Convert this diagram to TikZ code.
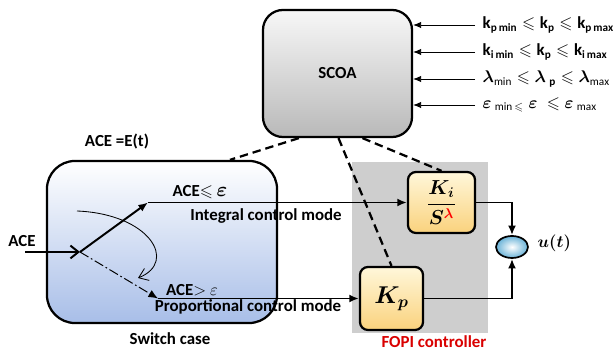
\documentclass[tikz,border=0pt]{standalone}
\usepackage{amsmath,amssymb,bm}
\usepackage{fontspec}
\setmainfont{Carlito}
\usetikzlibrary{arrows.meta,positioning,shapes.geometric,calc}
\definecolor{fopigray}{RGB}{206,206,206}
\definecolor{blockyl}{RGB}{255,247,218}
\definecolor{blockor}{RGB}{250,210,125}
\definecolor{swblue}{RGB}{168,190,232}
\definecolor{sumblue}{RGB}{105,178,215}

\begin{document}
\begin{tikzpicture}[
  x=0.025cm, y=-0.025cm,
  font=\large\bfseries,
  scoabox/.style={rectangle, draw, line width=1.6pt, rounded corners=0.5cm,
                  minimum width=3.725cm, minimum height=3.175cm,
                  top color=gray!6, bottom color=gray!55},
  swbox/.style={rectangle, draw, line width=1.6pt, rounded corners=0.7cm,
                minimum width=5.75cm, minimum height=4.05cm,
                top color=white, bottom color=swblue},
  gainbox/.style={rectangle, draw, line width=1.6pt, rounded corners=0.2cm,
                  top color=blockyl, bottom color=blockor},
  arr/.style={-{Latex[length=2.4mm,width=2mm]}, line width=1.4pt},
  inarr/.style={-{Latex[length=2mm,width=1.6mm]}, line width=0.6pt},
  dashline/.style={line width=1.6pt, dash pattern=on 6pt off 3.5pt},
  lbl/.style={inner sep=1pt}
]
  \useasboundingbox (0,0) rectangle (614,352);

  \node[fill=fopigray, minimum width=3.4cm, minimum height=4.275cm] (fopi) at (420,247.5) {};
  \node[scoabox] (scoa) at (337.5,73.5) {SCOA};
  \node[swbox] (swcase) at (162,242) {};
  \node[gainbox, minimum width=1.675cm, minimum height=1.525cm, font=\Large] (ki) at (441.5,202.5) {$\displaystyle\boldsymbol{\frac{K_i}{S^{\color{red}\lambda}}}$};
  \node[gainbox, minimum width=1.575cm, minimum height=1.575cm, font=\LARGE] (kp) at (391.5,298.5) {$\boldsymbol{K_p}$};
  \node[ellipse, draw, line width=1.2pt, minimum width=0.8cm, minimum height=0.55cm,
        inner color=white, outer color=sumblue] (sum) at (512,247) {};
  \node[lbl, anchor=west] (ut) at (536,243) {$\boldsymbol{u(t)}$};

  % bounds fed to SCOA
  \node[lbl, anchor=west] (lkp) at (481,25) {$\mathbf{k}_{\mathbf{p\,min}}\leqslant\mathbf{k_p}\leqslant\mathbf{k}_{\mathbf{p\,max}}$};
  \node[lbl, anchor=west] (lki) at (481,52) {$\mathbf{k}_{\mathbf{i\,min}}\leqslant\mathbf{k_p}\leqslant\mathbf{k}_{\mathbf{i\,max}}$};
  \node[lbl, anchor=west] (llam) at (481,79) {$\boldsymbol{\lambda}_{\mathrm{min}}\leqslant\boldsymbol{\lambda}_{\;\mathbf{p}}\leqslant\boldsymbol{\lambda}_{\mathrm{max}}$};
  \node[lbl, anchor=west] (leps) at (481,105) {$\boldsymbol{\varepsilon}_{\;\mathrm{min}\,\leqslant}\;\boldsymbol{\varepsilon}\;\leqslant\boldsymbol{\varepsilon}_{\;\mathrm{max}}$};
  \foreach \l in {lkp,lki,llam,leps}
    \draw[inarr] ($(\l.west)+(-6,0)$) -- (\l.west -| scoa.east);

  % switch
  \coordinate (ace) at (25,252);
  \coordinate (jn) at (80,252);
  \coordinate (up) at (148,202.5);
  \coordinate (dn) at (158,298.5);
  \node[lbl] (acelab) at (22,241) {ACE};
  \node[lbl] (acee) at (117,142) {ACE =E(t)};
  \draw[-{Straight Barb[length=2mm,width=3.2mm]}, line width=1.4pt] (ace) -- (jn);
  \draw[arr] (jn) -- (up);
  \draw[arr, line width=0.7pt, dash pattern=on 7pt off 2pt on 1.2pt off 2pt] (jn) -- (dn);
  \draw[arr] (up) -- (ki.west);
  \draw[arr] (dn) -- (kp.west);
  \draw[-{Straight Barb[length=2.2mm,width=3.2mm]}, line width=0.6pt]
    (77,211) .. controls (150,214) and (178,262) .. (138,278);
  \node[lbl] (cle) at (200,192) {ACE$\leqslant$ {\Large$\boldsymbol{\varepsilon}$}};
  \node[lbl] (intm) at (266,216) {Integral control mode};
  \node[lbl] (cgt) at (192,290) {ACE$>$ $\varepsilon$};
  \node[lbl] (prop) at (248,307) {Proportional control mode};
  \node[lbl] (swlab) at (170,339) {Switch case};
  \node[lbl, text=red!85!black] (fopilab) at (434,342) {FOPI controller};

  % controller output
  \draw[arr] (ki.east) -| (sum.north);
  \draw[arr] (kp.east) -| (sum.south);

  % tuning links
  \draw[dashline] ($(scoa.south west)+(37,0)$) -- ($(swcase.north)+(68,0)$);
  \draw[dashline] ($(scoa.south)+(1,0)$) -- (kp.north);
  \draw[dashline] ($(scoa.south)+(25,0)$) -- (ki.north);
\end{tikzpicture}
\end{document}
